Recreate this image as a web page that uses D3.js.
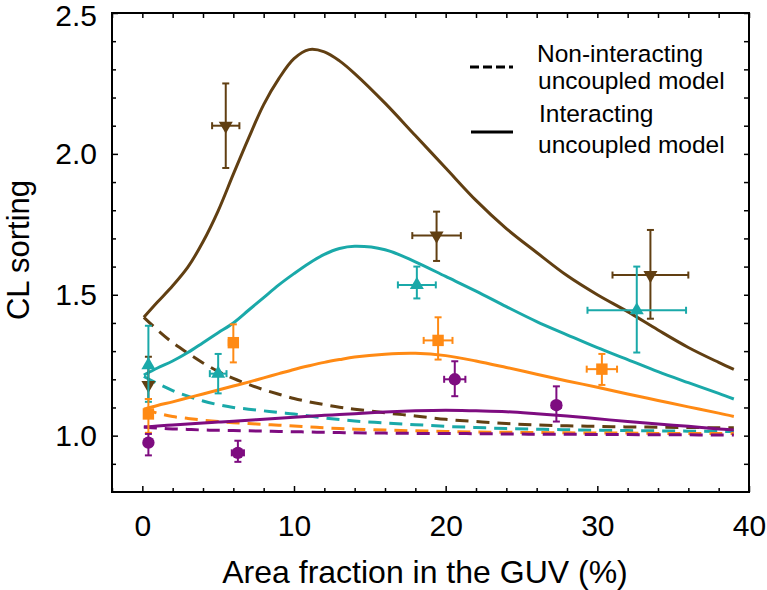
<!DOCTYPE html>
<html>
<head>
<meta charset="utf-8">
<script src="https://cdn.jsdelivr.net/npm/d3@7"></script>
<style>
  html, body { margin: 0; padding: 0; background: #fff; }
  svg { display: block; font-family: "Liberation Sans", Arial, Helvetica, sans-serif; }
</style>
</head>
<body>
<svg id="chart" width="767" height="590"></svg>
<script>
// ---------- data ----------
const curveX = [0.1, 1, 2, 3, 4, 5, 6, 7, 8, 9, 10, 11, 12, 13, 14, 16, 18, 20, 22, 24, 26, 28, 30, 32, 34, 36, 38, 39];
const brownSolid  = [1.42, 1.474, 1.532, 1.598, 1.688, 1.798, 1.928, 2.055, 2.175, 2.267, 2.338, 2.37, 2.362, 2.33, 2.285, 2.18, 2.065, 1.95, 1.835, 1.735, 1.65, 1.568, 1.50, 1.44, 1.375, 1.313, 1.26, 1.235];
const cyanSolid   = [1.215, 1.24, 1.265, 1.295, 1.33, 1.365, 1.40, 1.445, 1.49, 1.535, 1.575, 1.612, 1.643, 1.664, 1.672, 1.66, 1.617, 1.565, 1.513, 1.458, 1.405, 1.358, 1.312, 1.27, 1.227, 1.188, 1.15, 1.13];
const orangeSolid = [1.094, 1.107, 1.12, 1.134, 1.148, 1.162, 1.176, 1.19, 1.205, 1.22, 1.235, 1.248, 1.26, 1.27, 1.279, 1.289, 1.292, 1.284, 1.265, 1.242, 1.218, 1.194, 1.172, 1.148, 1.125, 1.102, 1.08, 1.068];
const purpleSolid = [1.031, 1.034, 1.038, 1.041, 1.045, 1.048, 1.051, 1.055, 1.058, 1.062, 1.065, 1.069, 1.072, 1.075, 1.078, 1.084, 1.088, 1.09, 1.088, 1.085, 1.078, 1.07, 1.06, 1.05, 1.041, 1.033, 1.024, 1.02];
const brownDashed  = [1.42, 1.375, 1.33, 1.293, 1.258, 1.228, 1.203, 1.182, 1.163, 1.147, 1.132, 1.12, 1.11, 1.101, 1.094, 1.081, 1.07, 1.058, 1.05, 1.043, 1.038, 1.035, 1.033, 1.031, 1.03, 1.029, 1.028, 1.028];
const cyanDashed   = [1.21, 1.185, 1.16, 1.14, 1.123, 1.11, 1.10, 1.094, 1.088, 1.082, 1.077, 1.07, 1.063, 1.057, 1.052, 1.045, 1.039, 1.033, 1.029, 1.025, 1.023, 1.021, 1.019, 1.018, 1.017, 1.016, 1.015, 1.015];
const orangeDashed = [1.094, 1.08, 1.068, 1.061, 1.055, 1.05, 1.046, 1.043, 1.04, 1.037, 1.034, 1.031, 1.028, 1.025, 1.023, 1.02, 1.017, 1.015, 1.013, 1.012, 1.011, 1.01, 1.009, 1.009, 1.008, 1.008, 1.008, 1.008];
const purpleDashed = [1.031, 1.027, 1.024, 1.022, 1.02, 1.019, 1.018, 1.017, 1.016, 1.015, 1.014, 1.013, 1.012, 1.011, 1.01, 1.009, 1.008, 1.008, 1.007, 1.006, 1.005, 1.005, 1.004, 1.004, 1.003, 1.003, 1.002, 1.002];

// measured points (x, y, x error half-width, y low, y high)
const brownPtsX = [0.4, 5.5, 19.4, 33.5];
const brownPtsY = [1.18, 2.10, 1.71, 1.57];
const brownPtsXErr = [0, 0.9, 1.6, 2.5];
const brownPtsYLo = [1.13, 1.95, 1.62, 1.415];
const brownPtsYHi = [1.28, 2.25, 1.795, 1.73];

const cyanPtsX = [0.4, 5.0, 18.1, 32.6];
const cyanPtsY = [1.25, 1.22, 1.535, 1.445];
const cyanPtsXErr = [0, 0.55, 1.25, 3.25];
const cyanPtsYLo = [1.12, 1.15, 1.487, 1.295];
const cyanPtsYHi = [1.39, 1.29, 1.60, 1.60];

const orangePtsX = [0.4, 6.0, 19.5, 30.3];
const orangePtsY = [1.077, 1.33, 1.338, 1.236];
const orangePtsXErr = [0, 0.3, 0.95, 1.0];
const orangePtsYLo = [1.01, 1.26, 1.27, 1.18];
const orangePtsYHi = [1.13, 1.395, 1.42, 1.29];

const purplePtsX = [0.4, 6.3, 20.6, 27.3];
const purplePtsY = [0.975, 0.939, 1.20, 1.108];
const purplePtsXErr = [0, 0.4, 0.7, 0.3];
const purplePtsYLo = [0.93, 0.907, 1.14, 1.05];
const purplePtsYHi = [1.006, 0.982, 1.264, 1.175];

const xMajorTicks = [0, 10, 20, 30, 40];
const xMinorTicks = [-2, 2, 4, 6, 8, 12, 14, 16, 18, 22, 24, 26, 28, 32, 34, 36, 38];
const yMajorTicks = [1.0, 1.5, 2.0, 2.5];
const yMinorTicks = [0.9, 1.1, 1.2, 1.3, 1.4, 1.6, 1.7, 1.8, 1.9, 2.1, 2.2, 2.3, 2.4];

const xLabel = "Area fraction in the GUV (%)";
const yLabel = "CL sorting";
const legendLabels = [["Non-interacting", "uncoupled model"], ["Interacting", "uncoupled model"]];

const colors = { brown: "#613f12", cyan: "#1aa9a9", orange: "#ff8a14", purple: "#7e0c80" };

// ---------- chart ----------
const svg = d3.select("#chart");
const x = d3.scaleLinear().domain([-2, 40]).range([112, 749]);
const y = d3.scaleLinear().domain([0.8, 2.5]).range([492, 13]);

const line = d3.line().x((d) => x(d[0])).y((d) => y(d[1])).curve(d3.curveCatmullRom.alpha(0.5));

const curves = [
  { vals: brownDashed, color: colors.brown, dash: true },
  { vals: cyanDashed, color: colors.cyan, dash: true },
  { vals: orangeDashed, color: colors.orange, dash: true },
  { vals: purpleDashed, color: colors.purple, dash: true },
  { vals: brownSolid, color: colors.brown, dash: false },
  { vals: cyanSolid, color: colors.cyan, dash: false },
  { vals: orangeSolid, color: colors.orange, dash: false },
  { vals: purpleSolid, color: colors.purple, dash: false },
];

const plot = svg.append("g");
curves.forEach((c) => {
  plot.append("path")
    .datum(curveX.map((xv, i) => [xv, c.vals[i]]))
    .attr("d", line)
    .attr("fill", "none")
    .attr("stroke", c.color)
    .attr("stroke-width", 3)
    .attr("stroke-dasharray", c.dash ? "13,8" : null);
});

// points
const series = [
  { xs: brownPtsX, ys: brownPtsY, xe: brownPtsXErr, lo: brownPtsYLo, hi: brownPtsYHi, color: colors.brown, sym: "down" },
  { xs: cyanPtsX, ys: cyanPtsY, xe: cyanPtsXErr, lo: cyanPtsYLo, hi: cyanPtsYHi, color: colors.cyan, sym: "up" },
  { xs: orangePtsX, ys: orangePtsY, xe: orangePtsXErr, lo: orangePtsYLo, hi: orangePtsYHi, color: colors.orange, sym: "square" },
  { xs: purplePtsX, ys: purplePtsY, xe: purplePtsXErr, lo: purplePtsYLo, hi: purplePtsYHi, color: colors.purple, sym: "circle" },
];
const cap = 3.5;
series.forEach((s) => {
  const g = plot.append("g").attr("stroke", s.color).attr("fill", s.color);
  s.xs.forEach((xv, i) => {
    const px = x(xv), py = y(s.ys[i]);
    const yl = y(s.lo[i]), yh = y(s.hi[i]);
    g.append("line").attr("x1", px).attr("x2", px).attr("y1", yl).attr("y2", yh).attr("stroke-width", 2);
    g.append("line").attr("x1", px - cap).attr("x2", px + cap).attr("y1", yl).attr("y2", yl).attr("stroke-width", 2);
    g.append("line").attr("x1", px - cap).attr("x2", px + cap).attr("y1", yh).attr("y2", yh).attr("stroke-width", 2);
    if (s.xe[i] > 0) {
      const xl = x(xv - s.xe[i]), xr = x(xv + s.xe[i]);
      g.append("line").attr("x1", xl).attr("x2", xr).attr("y1", py).attr("y2", py).attr("stroke-width", 2);
      g.append("line").attr("x1", xl).attr("x2", xl).attr("y1", py - cap).attr("y2", py + cap).attr("stroke-width", 2);
      g.append("line").attr("x1", xr).attr("x2", xr).attr("y1", py - cap).attr("y2", py + cap).attr("stroke-width", 2);
    }
    let sym;
    if (s.sym === "circle") sym = d3.symbol(d3.symbolCircle, 120);
    else if (s.sym === "square") sym = d3.symbol(d3.symbolSquare, 130);
    else sym = d3.symbol(d3.symbolTriangle, 85);
    g.append("path")
      .attr("d", sym())
      .attr("stroke", "none")
      .attr("transform", `translate(${px},${py})` + (s.sym === "down" ? " rotate(180)" : ""));
  });
});

// axes
function styleAxis(g) {
  g.select(".domain").remove();
  g.selectAll("line").attr("stroke", "#000").attr("stroke-width", 1.5);
  g.selectAll("text").attr("fill", "#000").style("font-size", "30px").style("font-family", "\"Liberation Sans\", Arial, sans-serif");
}
svg.append("g").attr("transform", "translate(0,492)")
  .call(d3.axisBottom(x).tickValues(xMajorTicks).tickSize(-6).tickPadding(23).tickFormat(d3.format("d")))
  .call(styleAxis);
svg.append("g").attr("transform", "translate(0,492)")
  .call(d3.axisBottom(x).tickValues(xMinorTicks).tickSize(-4).tickFormat(""))
  .call(styleAxis);
svg.append("g").attr("transform", "translate(0,13)")
  .call(d3.axisTop(x).tickValues(xMajorTicks.concat(xMinorTicks)).tickSize(-5).tickFormat(""))
  .call(styleAxis);
const yAxisG = svg.append("g").attr("transform", "translate(112,0)")
  .call(d3.axisLeft(y).tickValues(yMajorTicks).tickSize(-6).tickPadding(15).tickFormat(d3.format(".1f")))
  .call(styleAxis);
// keep the top label fully inside the picture
yAxisG.selectAll(".tick text").filter((d) => d === 2.5).attr("dy", "0.42em");
svg.append("g").attr("transform", "translate(112,0)")
  .call(d3.axisLeft(y).tickValues(yMinorTicks).tickSize(-4).tickFormat(""))
  .call(styleAxis);
svg.append("g").attr("transform", "translate(749,0)")
  .call(d3.axisRight(y).tickValues(yMajorTicks.concat(yMinorTicks)).tickSize(-5).tickFormat(""))
  .call(styleAxis);

// frame
svg.append("rect").attr("x", 112).attr("y", 13).attr("width", 749 - 112).attr("height", 492 - 13)
  .attr("fill", "none").attr("stroke", "#000").attr("stroke-width", 2);

// axis titles
svg.append("text").attr("x", 425).attr("y", 583).attr("text-anchor", "middle")
  .style("font-size", "32px").text(xLabel);
svg.append("text").attr("transform", "translate(29,250) rotate(-90)").attr("text-anchor", "middle")
  .style("font-size", "31px").text(yLabel);

// legend
const legend = svg.append("g");
legend.append("line").attr("x1", 470).attr("x2", 513).attr("y1", 67).attr("y2", 67)
  .attr("stroke", "#000").attr("stroke-width", 3).attr("stroke-dasharray", "9,4");
legend.append("line").attr("x1", 471).attr("x2", 513).attr("y1", 132).attr("y2", 132)
  .attr("stroke", "#000").attr("stroke-width", 3);
const lt = [[537, 62, legendLabels[0][0]], [538, 89, legendLabels[0][1]], [539, 122, legendLabels[1][0]], [538, 153, legendLabels[1][1]]];
lt.forEach((t) => {
  legend.append("text").attr("x", t[0]).attr("y", t[1]).style("font-size", "24.5px").attr("fill", "#000").text(t[2]);
});
</script>
</body>
</html>
